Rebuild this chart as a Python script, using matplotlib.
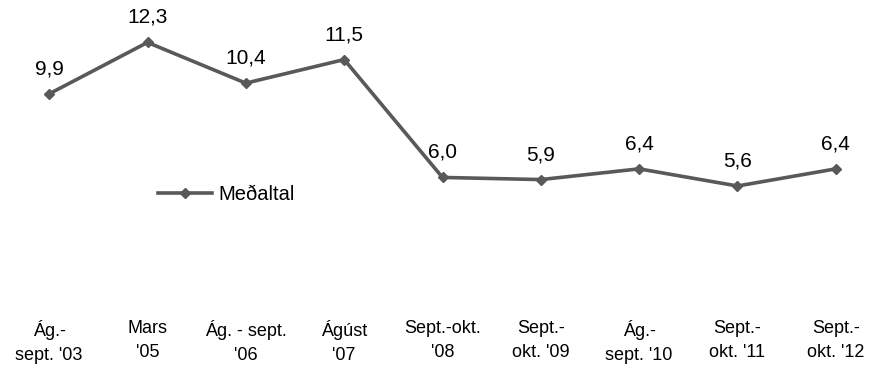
"""Meðaltal yfir tímabil - línurit með gildum ofan við punkta."""

import matplotlib

matplotlib.use("Agg")
import matplotlib.pyplot as plt  # noqa: E402

# Gögn lesin af myndinni
flokkar = ["Ág.-\nsept. '03", "Mars\n'05", "Ág. - sept.\n'06", "Ágúst\n'07",
           "Sept.-okt.\n'08", "Sept.-\nokt. '09", "Ág.-\nsept. '10",
           "Sept.-\nokt. '11", "Sept.-\nokt. '12"]
medaltal = [9.9, 12.3, 10.4, 11.5, 6.0, 5.9, 6.4, 5.6, 6.4]

LITUR = "#595959"
LETUR = ["Liberation Sans", "DejaVu Sans"]
MJOTT = ["Liberation Sans Narrow", "Liberation Sans", "DejaVu Sans"]

fig = plt.figure(figsize=(8.89, 3.71), dpi=100)
ax = fig.add_axes([0.0, 65 / 371, 885 / 889, 300 / 371])

x = list(range(len(flokkar)))
ax.plot(x, medaltal, color=LITUR, lw=2.6, marker="D", ms=5,
        label="Meðaltal")

for xi, v in zip(x, medaltal):
    ax.annotate(f"{v:.1f}".replace(".", ","), (xi, v), xytext=(0, 14),
                textcoords="offset points", ha="center", va="baseline",
                fontsize=15, family=LETUR, color="black")

ax.set_xlim(-0.5, len(flokkar) - 0.5)
ax.set_ylim(0, 14)
ax.set_xticks(x)
ax.set_xticklabels(flokkar, fontsize=13, family=MJOTT, linespacing=1.55)
ax.tick_params(axis="x", length=0, pad=10)
ax.set_yticks([])
for s in ax.spines.values():
    s.set_visible(False)

ax.legend(loc="center left", bbox_to_anchor=(158 / 885, 0.37), frameon=False,
          borderpad=0, borderaxespad=0, handlelength=2.7, handletextpad=0.3,
          prop={"family": LETUR, "size": 14.5})

fig.savefig("out.png", dpi=100)
